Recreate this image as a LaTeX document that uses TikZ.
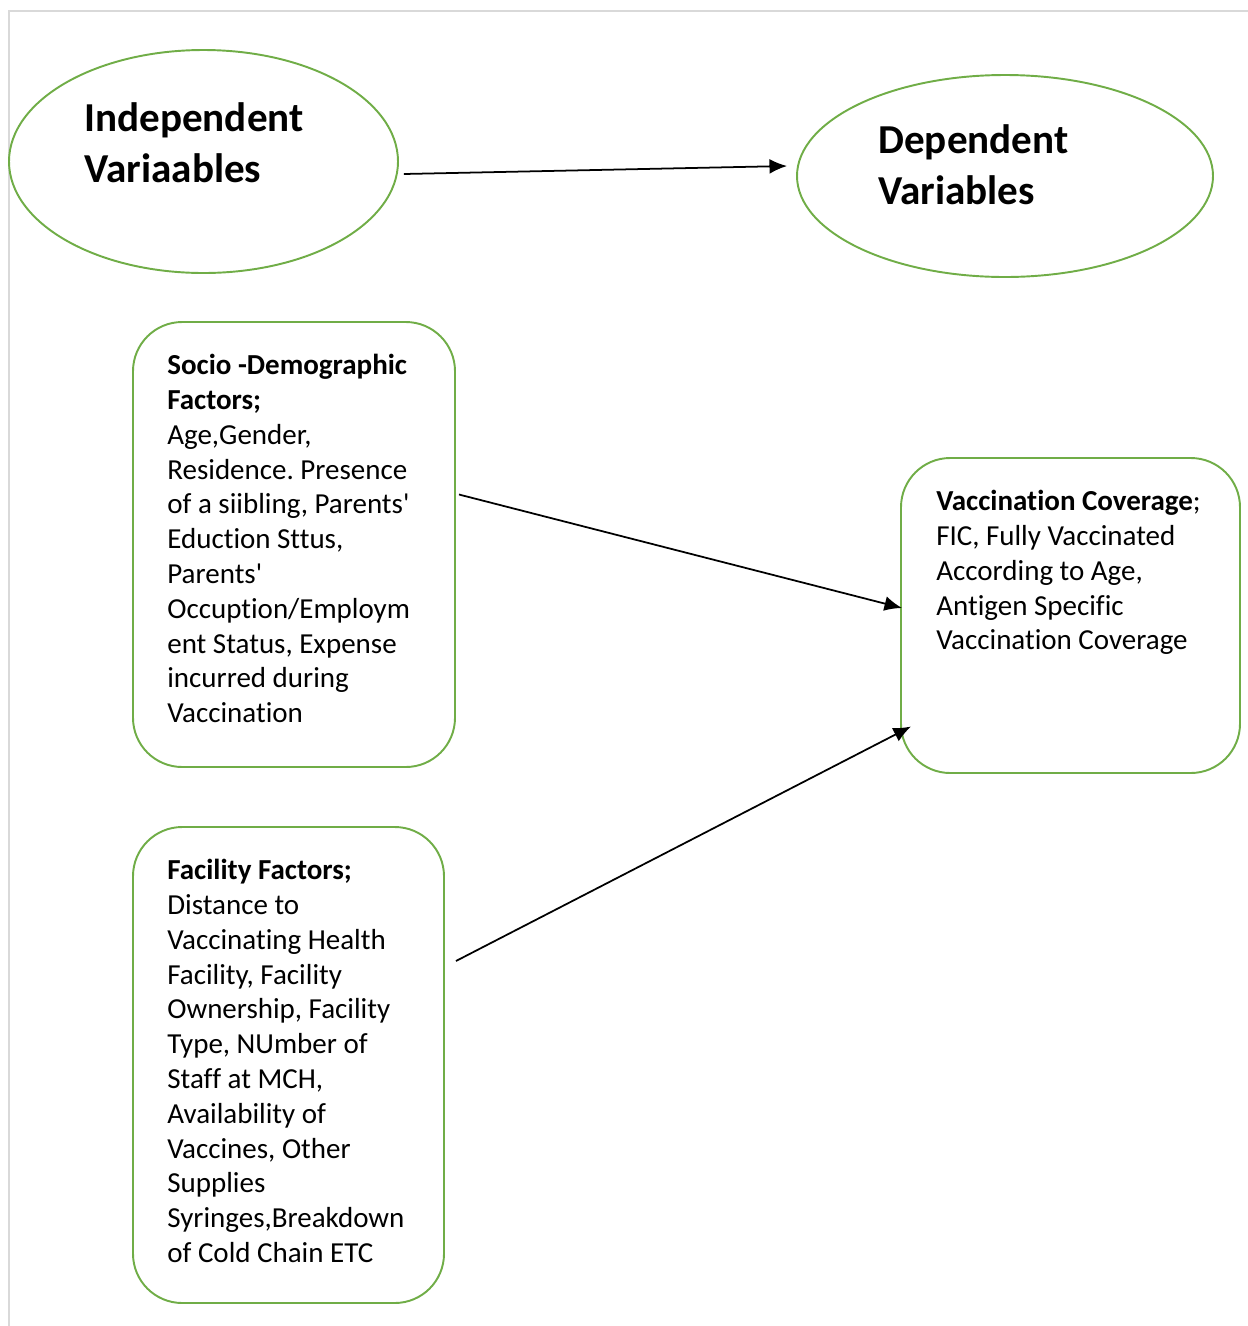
\documentclass[tikz,border=0pt]{standalone}
\usepackage{fontspec}
\setmainfont[Ligatures={NoCommon}]{Carlito}
\usetikzlibrary{arrows.meta,shapes.geometric}
\frenchspacing

\definecolor{leafgreen}{RGB}{112,173,71}
\newlength\px
\setlength\px{0.02cm}

\begin{document}
\begin{tikzpicture}[
  x=0.02cm, y=-0.02cm,
  >={Latex[length=10pt,width=8.5pt]},
  oval/.style   ={draw=leafgreen, line width=1.1pt, ellipse, inner sep=0pt},
  factor/.style ={draw=leafgreen, line width=1.1pt, rounded corners=28pt,
                  inner sep=0pt},
  heading/.style={anchor=north west, inner sep=0pt, align=left,
                  font=\fontsize{23.4pt}{29pt}\selectfont\bfseries},
  body/.style   ={anchor=north west, inner sep=0pt, align=left,
                  font=\fontsize{16.5pt}{19.8pt}\selectfont},
  link/.style   ={->, line width=1pt},
]
\useasboundingbox (0,0) rectangle (1248,1326);

% page frame
\draw[black!15, line width=0.8pt] (9,1326) -- (9,11) -- (1248,11);

% variable ovals
\node[oval, minimum width=389\px, minimum height=223\px] (indep) at (203.5,161.5) {};
\node[oval, minimum width=416\px, minimum height=202\px] (dep) at (1005,176) {};
\node[heading] (indeptxt) at (84,102) {Independent\\Variaables};
\node[heading] (deptxt) at (878,124) {Dependent\\Variables};

% factor boxes
\node[factor, minimum width=322\px, minimum height=445\px] (socio) at (294,544.5) {};
\node[factor, minimum width=311\px, minimum height=476\px] (facility) at (288.5,1065) {};
\node[factor, minimum width=339\px, minimum height=315\px] (coverage) at (1070.5,615.5) {};

\node[body] (sociotxt) at (167,354) {%
  \textbf{Socio -Demographic}\\
  \textbf{Factors;}\\
  Age,Gender,\\
  Residence. Presence\\
  of a siibling, Parents\textquotesingle\\
  Eduction Sttus,\\
  Parents\textquotesingle\\
  Occuption/Employm\\
  ent Status, Expense\\
  incurred during\\
  Vaccination};

\node[body] (facilitytxt) at (167,859) {%
  \textbf{Facility Factors;}\\
  Distance to\\
  Vaccinating Health\\
  Facility, Facility\\
  Ownership, Facility\\
  Type, NUmber of\\
  Staff at MCH,\\
  Availability of\\
  Vaccines, Other\\
  Supplies\\
  Syringes,Breakdown\\
  of Cold Chain ETC};

\node[body] (coveragetxt) at (936,490) {%
  \textbf{Vaccination Coverage};\\
  FIC, Fully Vaccinated\\
  According to Age,\\
  Antigen Specific\\
  Vaccination Coverage};

% arrows
\draw[link] ([xshift=5\px,yshift=-12.5\px]indep.east) -- ([xshift=-9\px,yshift=10\px]dep.west);
\draw[link] ([xshift=3\px,yshift=50\px]socio.east) -- ([xshift=2\px,yshift=7.5\px]coverage.west);
\draw[link] ([xshift=11\px,yshift=104\px]facility.east) -- ([xshift=11\px,yshift=-111\px]coverage.west);

\end{tikzpicture}
\end{document}
